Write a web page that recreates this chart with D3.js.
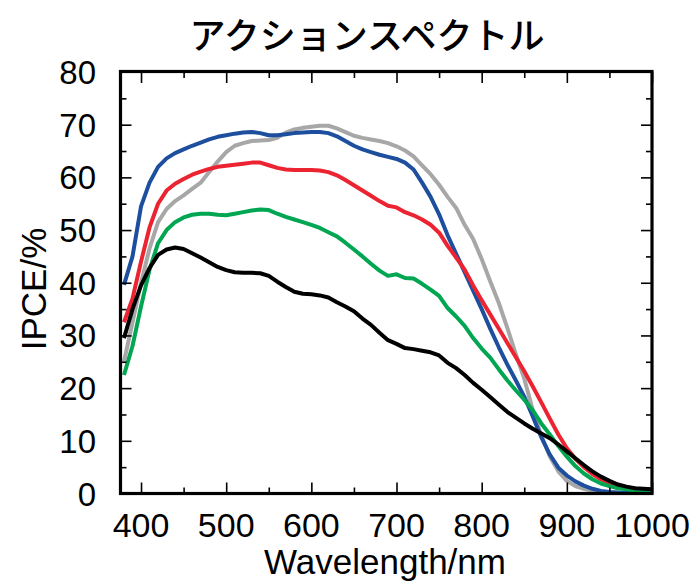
<!DOCTYPE html>
<html>
<head>
<meta charset="utf-8">
<script src="https://cdn.jsdelivr.net/npm/d3@7"></script>
<style>
  html, body { margin: 0; padding: 0; background: #fff; }
  svg { display: block; }
  text { font-family: "Liberation Sans", Arial, sans-serif; fill: #000; }
</style>
</head>
<body>
<svg id="chart" width="693" height="581"></svg>
<script>
// ---------- data ----------
const title = "アクションスペクトル";
const xLabel = "Wavelength/nm";
const yLabel = "IPCE/%";
const xTickLabels = [400, 500, 600, 700, 800, 900, 1000];
const xMinorTicks = [450, 550, 650, 750, 850, 950];
const yTickLabels = [0, 10, 20, 30, 40, 50, 60, 70, 80];
const yMinorTicks = [5, 15, 25, 35, 45, 55, 65, 75];

const wavelength = [380,390,400,410,420,430,440,450,460,470,480,490,500,510,520,530,540,550,560,570,580,590,600,610,620,630,640,650,660,670,680,690,700,710,720,730,740,750,760,770,780,790,800,810,820,830,840,850,860,870,880,890,900,910,920,930,940,950,960,970,980,990,1000];

const grayIPCE = [25,32.5,40,46.5,51.5,54,55.5,56.6,57.8,59,61,63,64.8,66,66.5,66.9,67,67.1,67.5,68.5,69.1,69.4,69.6,69.8,69.8,69.3,68.6,67.9,67.5,67.2,66.9,66.5,65.9,65.1,64,62.3,60.6,58.6,56.3,54.2,51,48.3,44.5,40.3,36.2,31.5,26.5,21.8,15.8,11,7,4.2,2.4,1.4,0.9,0.5,0.3,0.2,0.1,0.1,0.1,0.1,0.1];
const blueIPCE = [39.6,45,54.5,59,62,63.6,64.6,65.3,66,66.6,67.2,67.7,68,68.3,68.5,68.6,68.4,68,68,68.2,68.4,68.5,68.6,68.6,68.4,67.8,66.9,66,65.3,64.8,64.3,63.9,63.5,62.8,61.5,59,56.3,53,49,45.5,42,38.5,35,31.3,27.8,24.5,21.5,18.4,14.6,10.7,7.4,4.9,3.4,2.3,1.5,0.9,0.5,0.3,0.2,0.1,0.1,0.1,0.1];
const redIPCE = [32.5,37,44,50.5,55,57.5,58.8,59.7,60.5,61.1,61.6,62,62.2,62.4,62.6,62.8,62.8,62.3,61.8,61.5,61.4,61.4,61.4,61.3,61,60.4,59.5,58.5,57.5,56.5,55.5,54.6,54.3,53.4,52.8,52,51,49.5,47,44.8,42.5,39.5,36.7,34,31.3,28.6,25.9,23.2,20.3,17.3,14.2,11.2,8.6,6.6,5,3.7,2.7,2,1.5,1.1,0.9,0.7,0.6];
const greenIPCE = [22.5,28,35.5,42.5,47.5,50,51.5,52.4,52.9,53.1,53.1,52.9,52.8,53.1,53.4,53.7,53.9,53.8,53.1,52.5,52,51.5,51,50.4,49.6,48.8,47.6,46.3,45,43.6,42.3,41.3,41.6,40.9,40.8,39.8,38.7,37.5,35.2,33.6,31.8,29.5,27.5,25.8,23.6,21.5,19.6,17.8,15.8,13.3,11.2,9,7,5.2,3.8,2.7,1.9,1.4,1.0,0.8,0.6,0.5,0.4];
const blackIPCE = [29.5,35,39.5,42.8,45.3,46.3,46.7,46.4,45.6,44.8,43.9,43,42.4,42,41.9,41.9,41.8,41.3,40.2,39.2,38.3,37.9,37.8,37.6,37.2,36.3,35.5,34.6,33.2,32,30.5,29.1,28.4,27.6,27.4,27.1,26.8,26.2,24.8,23.8,22.5,21,19.7,18.3,16.9,15.5,14.4,13.3,12.3,11.4,10.5,9.3,8,6.7,5.4,4.2,3.2,2.4,1.7,1.3,1,0.9,0.8];

const seriesNames = ["gray", "blue", "red", "green", "black"];
const seriesValues = [grayIPCE, blueIPCE, redIPCE, greenIPCE, blackIPCE];
const seriesColors = ["#a7a7a7", "#1d4f9e", "#ec2330", "#00a651", "#000000"];

// ---------- layout ----------
const svg = d3.select("#chart");
const L = 120.5, R = 652, T = 72, B = 493.5;

const x = d3.scaleLinear().domain([375.9, 1000]).range([L, R]);
const y = d3.scaleLinear().domain([0, 80]).range([B, T]);

svg.append("defs").append("clipPath").attr("id", "clip")
  .append("rect").attr("x", L).attr("y", T).attr("width", R - L).attr("height", B - T);

// curves
const line = d3.line()
  .x((d, i) => x(wavelength[i]))
  .y(d => y(d));

const curves = svg.append("g").attr("clip-path", "url(#clip)");
seriesValues.forEach((vals, k) => {
  curves.append("path")
    .datum(vals)
    .attr("d", line)
    .attr("fill", "none")
    .attr("stroke", seriesColors[k])
    .attr("stroke-width", 4)
    .attr("stroke-linejoin", "round")
    .attr("stroke-linecap", "butt");
});

// inward ticks on all four sides
function styleAxis(g) {
  g.select(".domain").remove();
  g.selectAll(".tick line").attr("stroke", "#000").attr("stroke-width", 1.6);
  g.selectAll(".tick text").remove();
}
const MAJ = 11, MIN = 6;
[["bottom", B], ["top", T]].forEach(([side, pos]) => {
  const mk = side === "bottom" ? d3.axisBottom : d3.axisTop;
  svg.append("g").attr("transform", `translate(0,${pos})`)
    .call(mk(x).tickValues(xTickLabels).tickSize(-MAJ)).call(styleAxis);
  svg.append("g").attr("transform", `translate(0,${pos})`)
    .call(mk(x).tickValues(xMinorTicks).tickSize(-MIN)).call(styleAxis);
});
[["left", L], ["right", R]].forEach(([side, pos]) => {
  const mk = side === "left" ? d3.axisLeft : d3.axisRight;
  svg.append("g").attr("transform", `translate(${pos},0)`)
    .call(mk(y).tickValues(yTickLabels.filter(v => v > 0 && v < 80)).tickSize(-MAJ)).call(styleAxis);
  svg.append("g").attr("transform", `translate(${pos},0)`)
    .call(mk(y).tickValues(yMinorTicks).tickSize(-MIN)).call(styleAxis);
});

// frame
svg.append("rect")
  .attr("x", L).attr("y", T - 0.5).attr("width", R - L).attr("height", B - T + 0.5)
  .attr("fill", "none").attr("stroke", "#000").attr("stroke-width", 3.2);

// tick labels
svg.append("g").selectAll("text").data(xTickLabels).join("text")
  .attr("x", d => x(d)).attr("y", 537)
  .attr("text-anchor", "middle")
  .attr("font-size", 34)
  .text(d => d);

svg.append("g").selectAll("text").data(yTickLabels).join("text")
  .attr("x", 96).attr("y", d => y(d) + 12)
  .attr("text-anchor", "end")
  .attr("font-size", 33)
  .text(d => d);

// axis titles
svg.append("text")
  .attr("x", 385).attr("y", 574)
  .attr("text-anchor", "middle")
  .attr("font-size", 35)
  .text(xLabel);

svg.append("text")
  .attr("transform", "translate(46,289) rotate(-90)")
  .attr("text-anchor", "middle")
  .attr("font-size", 35)
  .text(yLabel);

// title
svg.append("text")
  .attr("x", 367).attr("y", 49)
  .attr("text-anchor", "middle")
  .attr("font-size", 36)
  .attr("font-weight", 500)
  .style("font-family", "'Noto Sans CJK JP', 'Noto Sans CJK SC', sans-serif")
  .text(title);
</script>
</body>
</html>
